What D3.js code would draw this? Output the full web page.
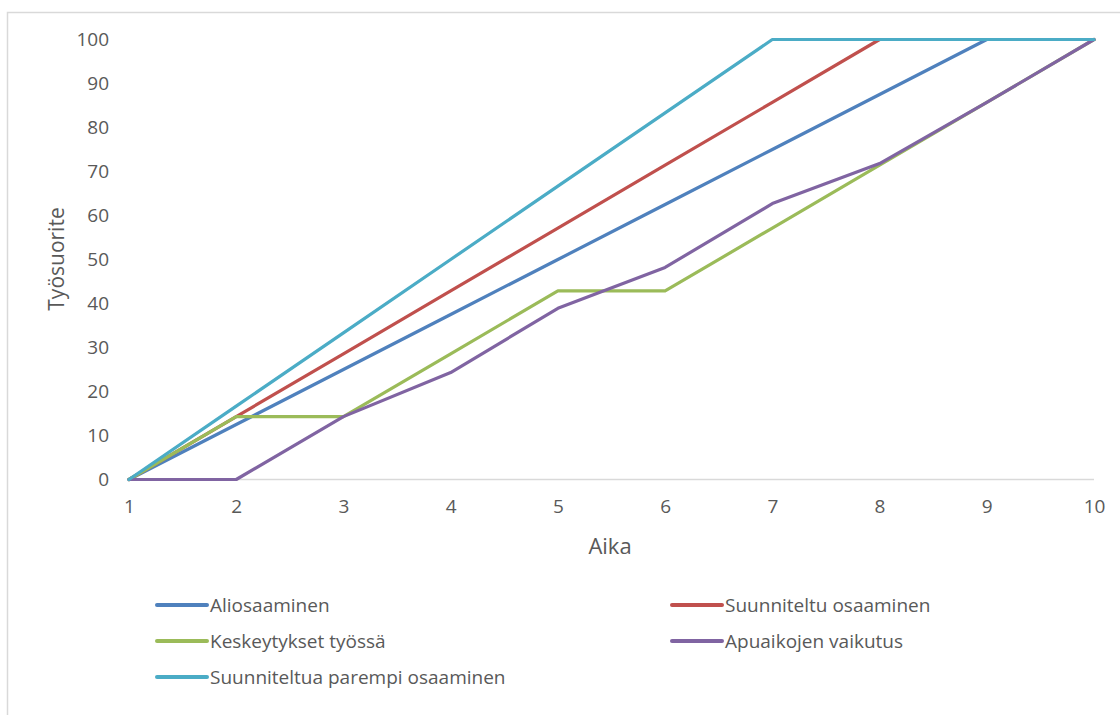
<!DOCTYPE html>
<html>
<head>
<meta charset="utf-8">
<script src="https://cdn.jsdelivr.net/npm/d3@7"></script>
<style>
  html, body { margin: 0; padding: 0; background: #fff; }
  svg { display: block; font-family: "Open Sans", "Noto Sans", sans-serif; }
</style>
</head>
<body>
<svg id="chart" width="1120" height="715"></svg>
<script>
const aika = [1, 2, 3, 4, 5, 6, 7, 8, 9, 10];
const yTicks = [0, 10, 20, 30, 40, 50, 60, 70, 80, 90, 100];
const seriesNames = ["Aliosaaminen", "Suunniteltu osaaminen", "Keskeytykset työssä", "Apuaikojen vaikutus", "Suunniteltua parempi osaaminen"];
const seriesColors = ["#4F81BD", "#C0504D", "#9BBB59", "#8064A2", "#4BACC6"];
const aliosaaminen = [0, 12.5, 25, 37.5, 50, 62.5, 75, 87.5, 100, 100];
const suunniteltu = [0, 14.29, 28.57, 42.86, 57.14, 71.43, 85.71, 100, 100, 100];
const keskeytykset = [0, 14.29, 14.29, 28.57, 42.86, 42.86, 57.14, 71.43, 85.71, 100];
const apuajat = [0, 0, 14.29, 24.3, 38.9, 48.2, 62.7, 71.8, 85.71, 100];
const parempi = [0, 16.67, 33.33, 50, 66.67, 83.33, 100, 100, 100, 100];
const seriesValues = [aliosaaminen, suunniteltu, keskeytykset, apuajat, parempi];

const svg = d3.select("#chart");

// outer border
svg.append("rect").attr("x", 7.5).attr("y", 12.5).attr("width", 1130).attr("height", 720)
  .attr("fill", "none").attr("stroke", "#d9d9d9").attr("stroke-width", 1.5);

const x = d3.scaleLinear().domain([1, 10]).range([129, 1094]);
const y = d3.scaleLinear().domain([0, 100]).range([479.5, 39.5]);

// baseline
svg.append("line").attr("x1", x(1)).attr("x2", x(10)).attr("y1", y(0)).attr("y2", y(0))
  .attr("stroke", "#d9d9d9").attr("stroke-width", 1.5);

// y axis labels
const yAxis = d3.axisLeft(y).tickValues(yTicks).tickSize(0).tickPadding(20);
const gy = svg.append("g").attr("transform", `translate(${x(1)},0)`).call(yAxis);
gy.select(".domain").remove();
gy.selectAll("text").attr("fill", "#595959").style("font-size", "19px")
  .attr("font-family", "Open Sans").attr("x", 109 - x(1));

// x axis labels
const xAxis = d3.axisBottom(x).tickValues(aika).tickSize(0).tickPadding(20).tickFormat(d3.format("d"));
const gx = svg.append("g").attr("transform", `translate(0,${y(0)})`).call(xAxis);
gx.select(".domain").remove();
gx.selectAll("text").attr("fill", "#595959").style("font-size", "19px").attr("font-family", "Open Sans");

// axis titles
svg.append("text").attr("x", 610).attr("y", 554).attr("text-anchor", "middle")
  .attr("fill", "#595959").style("font-size", "22px").text("Aika");
svg.append("text").attr("transform", "translate(64,259) rotate(-90)").attr("text-anchor", "middle")
  .attr("fill", "#595959").style("font-size", "21px").text("Työsuorite");

// lines
const line = d3.line().x((d, i) => x(aika[i])).y(d => y(d));
seriesValues.forEach((vals, k) => {
  svg.append("path").datum(vals).attr("d", line).attr("fill", "none")
    .attr("stroke", seriesColors[k]).attr("stroke-width", 3.2)
    .attr("stroke-linejoin", "round").attr("stroke-linecap", "round");
});

// legend
const legendPos = [[157, 605], [672, 605], [157, 641], [672, 641], [157, 677]];
seriesNames.forEach((name, k) => {
  const [lx, ly] = legendPos[k];
  svg.append("line").attr("x1", lx).attr("x2", lx + 50).attr("y1", ly).attr("y2", ly)
    .attr("stroke", seriesColors[k]).attr("stroke-width", 4).attr("stroke-linecap", "round");
  svg.append("text").attr("x", lx + 53).attr("y", ly).attr("dy", "0.35em")
    .attr("fill", "#595959").style("font-size", "19px").text(name);
});
</script>
</body>
</html>
